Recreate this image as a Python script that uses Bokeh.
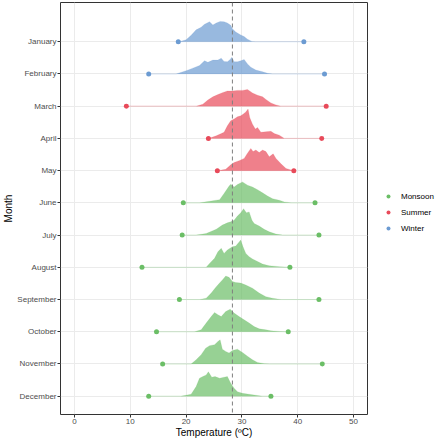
from bokeh.plotting import figure
from bokeh.models import Legend, LegendItem, FixedTicker, Span
from bokeh.layouts import row
from bokeh.embed import file_html
from bokeh.resources import INLINE

months = ["January", "February", "March", "April", "May", "June", "July",
          "August", "September", "October", "November", "December"]
seasons = ["Winter", "Winter", "Summer", "Summer", "Summer", "Monsoon", "Monsoon",
           "Monsoon", "Monsoon", "Monsoon", "Monsoon", "Monsoon"]
min_temp = [18.6, 13.3, 9.3, 24.0, 25.6, 19.5, 19.3, 12.1, 18.8, 14.7, 15.8, 13.3]
max_temp = [41.1, 44.8, 45.1, 44.3, 39.3, 43.1, 43.8, 38.6, 43.8, 38.3, 44.4, 35.2]
mean_temp = 28.3
x_ticks = [0, 10, 20, 30, 40, 50]

# ridge profiles: (temperature, density height in row units)
jan_ridge = [(18.8, 0), (20.0, 0.06), (20.9, 0.20), (21.8, 0.37), (22.7, 0.45), (23.3, 0.54),
             (24.2, 0.62), (24.8, 0.52), (25.4, 0.58), (26.1, 0.63), (26.8, 0.62), (27.4, 0.58),
             (28.0, 0.51), (28.3, 0.40), (28.9, 0.30), (29.8, 0.21), (30.4, 0.16), (31.0, 0.08),
             (31.8, 0.01), (32.5, 0)]
feb_ridge = [(18.2, 0), (20.0, 0.10), (21.2, 0.18), (22.4, 0.26), (23.3, 0.41), (23.9, 0.36),
             (24.8, 0.43), (25.7, 0.43), (26.3, 0.49), (26.8, 0.39), (27.4, 0.38), (27.9, 0.45),
             (28.2, 0.52), (28.6, 0.38), (29.2, 0.38), (29.8, 0.41), (30.4, 0.45), (31.0, 0.31),
             (31.6, 0.21), (32.5, 0.12), (33.7, 0.07), (34.6, 0.02), (35.5, 0)]
mar_ridge = [(21.8, 0), (23.0, 0.06), (23.9, 0.19), (24.8, 0.29), (25.7, 0.36), (26.5, 0.42),
             (27.4, 0.47), (28.3, 0.47), (29.2, 0.49), (30.1, 0.49), (31.0, 0.52), (31.9, 0.41),
             (32.8, 0.34), (33.7, 0.29), (34.3, 0.21), (35.2, 0.10), (36.1, 0.04), (37.0, 0)]
apr_ridge = [(24.0, 0), (25.4, 0.08), (26.8, 0.19), (27.4, 0.39), (28.0, 0.55), (28.6, 0.60),
             (29.2, 0.67), (29.8, 0.70), (30.2, 0.75), (30.7, 0.82), (31.1, 0.91), (31.4, 0.65),
             (31.9, 0.44), (32.4, 0.29), (32.8, 0.34), (33.4, 0.19), (34.3, 0.21), (35.2, 0.22),
             (35.8, 0.15), (36.7, 0.10), (37.6, 0)]
may_ridge = [(25.6, 0), (27.1, 0.04), (28.0, 0.18), (28.6, 0.25), (29.5, 0.31), (30.4, 0.38),
             (31.0, 0.54), (31.6, 0.69), (32.0, 0.59), (32.5, 0.64), (33.1, 0.56), (33.7, 0.64),
             (34.3, 0.59), (34.9, 0.43), (35.6, 0.52), (36.1, 0.38), (37.0, 0.21), (37.9, 0.07),
             (38.8, 0.02), (39.3, 0)]
jun_ridge = [(22.4, 0), (24.2, 0.05), (26.0, 0.10), (26.8, 0.29), (27.7, 0.52), (28.0, 0.58),
             (28.6, 0.49), (29.2, 0.57), (30.1, 0.65), (31.0, 0.55), (31.9, 0.49), (32.8, 0.41),
             (33.7, 0.31), (34.6, 0.21), (35.5, 0.13), (36.7, 0.08), (37.6, 0.03), (38.8, 0)]
jul_ridge = [(21.8, 0), (23.6, 0.05), (25.4, 0.18), (26.5, 0.31), (27.4, 0.38), (28.0, 0.41),
             (28.6, 0.46), (29.2, 0.59), (29.8, 0.69), (30.3, 0.82), (30.8, 0.69), (31.3, 0.72),
             (31.8, 0.46), (32.2, 0.36), (33.1, 0.28), (34.0, 0.18), (34.9, 0.10), (36.1, 0.03),
             (37.3, 0)]
aug_ridge = [(23.6, 0), (24.2, 0.12), (25.1, 0.28), (25.7, 0.48), (26.3, 0.59), (26.8, 0.43),
             (27.4, 0.54), (28.3, 0.64), (28.9, 0.66), (29.8, 0.85), (30.2, 0.64), (30.7, 0.43),
             (31.3, 0.33), (31.9, 0.26), (32.8, 0.18), (33.7, 0.10), (34.9, 0.05), (36.7, 0.02),
             (38.6, 0)]
sep_ridge = [(22.4, 0), (23.6, 0.04), (24.5, 0.20), (25.4, 0.40), (26.0, 0.51), (26.5, 0.61),
             (27.1, 0.73), (27.7, 0.69), (28.3, 0.56), (28.9, 0.53), (29.8, 0.51), (30.7, 0.45),
             (31.9, 0.35), (33.1, 0.20), (34.3, 0.09), (35.5, 0.04), (37.0, 0)]
oct_ridge = [(21.5, 0), (22.7, 0.06), (23.6, 0.27), (24.5, 0.47), (25.1, 0.60), (25.7, 0.53),
             (26.3, 0.47), (27.1, 0.63), (27.9, 0.70), (28.6, 0.58), (29.5, 0.47), (30.4, 0.37),
             (31.3, 0.27), (32.2, 0.16), (33.1, 0.09), (34.3, 0.06), (35.2, 0.03), (36.7, 0.01),
             (38.0, 0)]
nov_ridge = [(20.9, 0), (21.8, 0.13), (22.7, 0.29), (23.5, 0.49), (24.2, 0.57), (25.1, 0.60),
             (25.7, 0.70), (26.1, 0.75), (26.5, 0.46), (27.1, 0.39), (27.7, 0.34), (28.3, 0.42),
             (29.2, 0.46), (30.1, 0.36), (31.0, 0.24), (31.9, 0.13), (32.8, 0.05), (34.0, 0.01),
             (35.0, 0)]
dec_ridge = [(19.0, 0), (20.9, 0.06), (21.8, 0.30), (22.4, 0.56), (23.0, 0.61), (23.6, 0.66),
             (24.0, 0.76), (24.6, 0.59), (25.2, 0.61), (26.0, 0.56), (26.8, 0.59), (27.4, 0.61),
             (28.0, 0.40), (28.6, 0.25), (29.2, 0.14), (30.1, 0.09), (31.3, 0.06), (32.5, 0.03),
             (33.7, 0)]

ridges = [jan_ridge, feb_ridge, mar_ridge, apr_ridge, may_ridge, jun_ridge, jul_ridge,
          aug_ridge, sep_ridge, oct_ridge, nov_ridge, dec_ridge]

season_colors = {"Monsoon": "#6BBE66", "Summer": "#E84A5A", "Winter": "#6C9BD2"}
legend_order = ["Monsoon", "Summer", "Winter"]

FONT = "Liberation Sans"

p = figure(width=368, height=440, output_backend="svg", toolbar_location=None,
           x_range=(-2.5, 52.5), y_range=(0.433, 13.217),
           min_border_left=57, min_border_right=1, min_border_top=2, min_border_bottom=25,
           background_fill_color="white", border_fill_color="white")

p.outline_line_color = "#333333"
p.outline_line_width = 1

p.xgrid.grid_line_color = "#EBEBEB"
p.ygrid.grid_line_color = "#EBEBEB"
p.xgrid.grid_line_width = 1
p.ygrid.grid_line_width = 1

n = len(months)
ypos = [n - i for i in range(n)]

p.xaxis.ticker = FixedTicker(ticks=x_ticks)
p.yaxis.ticker = FixedTicker(ticks=ypos)
p.yaxis.major_label_overrides = {y: m for y, m in zip(ypos, months)}

for ax in (p.xaxis[0], p.yaxis[0]):
    ax.axis_line_color = None
    ax.major_tick_line_color = "#333333"
    ax.major_tick_in = 0
    ax.major_tick_out = 3
    ax.minor_tick_line_color = None
    ax.major_label_text_font = FONT
    ax.major_label_text_font_size = "8px"
    ax.major_label_text_color = "#4D4D4D"
    ax.major_label_standoff = 1
    ax.axis_label_text_font = FONT
    ax.axis_label_text_font_size = "10px"
    ax.axis_label_text_font_style = "normal"
    ax.axis_label_text_color = "#000000"
    ax.axis_label_standoff = 0

p.xaxis.axis_label = "Temperature (ºC)"
p.yaxis.axis_label = "Month"

# ridges
for i in range(n):
    base = ypos[i]
    col = season_colors[seasons[i]]
    t = [a for a, _ in ridges[i]]
    d = [b for _, b in ridges[i]]
    xs = [min_temp[i]] + t + [max_temp[i]]
    ys = [base] + [base + v for v in d] + [base]
    p.patch(xs, ys, fill_color=col, fill_alpha=0.7, line_color=col, line_alpha=0.2,
            line_width=0.8)

# mean line
p.add_layout(Span(location=mean_temp, dimension="height", line_color="#7F7F7F",
                  line_dash="4 3", line_width=1))

# min / max points
for s in legend_order:
    idx = [i for i in range(n) if seasons[i] == s]
    xs = [min_temp[i] for i in idx] + [max_temp[i] for i in idx]
    ys = [ypos[i] for i in idx] * 2
    p.scatter(xs, ys, size=5, color=season_colors[s], line_width=0)

# legend panel (separate figure on the right); its key points lie outside its view
lg = figure(width=68, height=440, output_backend="svg", toolbar_location=None,
            x_axis_type=None, y_axis_type=None, x_range=(0, 1), y_range=(0, 1),
            min_border_left=0, min_border_right=0, min_border_top=0, min_border_bottom=0,
            outline_line_color=None, background_fill_color="white",
            border_fill_color="white")
lg.xgrid.visible = False
lg.ygrid.visible = False
leg_renderers = {}
for s in legend_order:
    leg_renderers[s] = lg.scatter(x=[-10], y=[-10], size=5, color=season_colors[s],
                                  line_width=0)

legend = Legend(items=[LegendItem(label=s, renderers=[leg_renderers[s]]) for s in legend_order],
                location=(15, 181), border_line_color=None, background_fill_alpha=0,
                label_text_font=FONT, label_text_font_size="8px", label_text_color="#000000",
                glyph_width=10, glyph_height=10, label_height=10, spacing=6,
                padding=2, margin=0, label_standoff=8)
lg.add_layout(legend, "center")

layout = row(p, lg, spacing=0)
open("out.html", "w").write(file_html(layout, INLINE))
